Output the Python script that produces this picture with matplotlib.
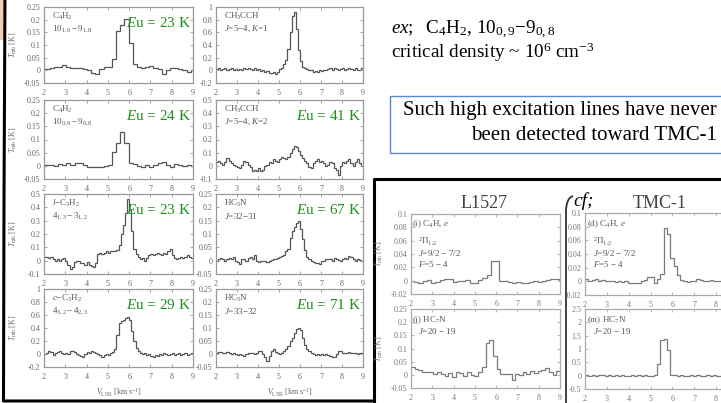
import numpy as np
import matplotlib
matplotlib.use('Agg')
import matplotlib.pyplot as plt
from matplotlib.ticker import MultipleLocator, FuncFormatter
from matplotlib.lines import Line2D
from matplotlib.patches import Rectangle, Polygon, PathPatch
from matplotlib.path import Path

plt.rcParams['font.family'] = ['Liberation Serif', 'DejaVu Serif']
plt.rcParams['mathtext.fontset'] = 'custom'
plt.rcParams['mathtext.rm'] = 'Liberation Serif'
plt.rcParams['mathtext.it'] = 'Liberation Serif:italic'
plt.rcParams['mathtext.bf'] = 'Liberation Serif:bold'

# ---------------- data ----------------
# channel grids: (first channel edge, channel width)
grid_c4h2 = (1.875, 0.195)
grid_fine = (2.0, 0.1)
grid_l1527_c4h = (1.95, 0.2)
grid_l1527_hc7n = (2.0, 0.175)
grid_tmc1 = (2.0, 0.15)

c4h2_1 = [0.005, 0.005, 0.008, 0.012, 0.015, 0.02, 0.012, 0.01, 0.01, 0.008,
          0.005, 0.0, -0.01, -0.013, 0.005, 0.012, 0.015, 0.045, 0.155, 0.18,
          0.203, 0.107, 0.025, 0.015, 0.01, 0.012, 0.018, 0.01, 0.005, -0.015,
          0.0, 0.01, 0.01, 0.005, 0.0, -0.005, 0.0]
c4h2_0 = [0.0, 0.002, 0.005, 0.0, 0.008, 0.005, 0.01, 0.005, 0.01, 0.012,
          0.005, -0.004, -0.006, -0.005, -0.003, 0.0, 0.002, 0.052, 0.088, 0.128,
          0.088, 0.01, 0.008, 0.0, -0.005, 0.002, -0.004, 0.005, 0.01, 0.015,
          0.002, -0.004, 0.008, 0.005, 0.0, 0.003, 0.0]
ch3cch_k1 = [0.02, 0.03, 0.0, 0.02, 0.03, 0.01, 0.02, 0.04, 0.01, 0.02,
             0.0, 0.02, 0.01, 0.03, 0.02, 0.04, 0.02, 0.0, 0.03, 0.01,
             0.02, -0.01, 0.0, -0.02, -0.01, -0.04, -0.05, -0.03, -0.06, -0.02,
             0.02, 0.04, 0.1, 0.16, 0.33, 0.6, 0.86, 0.92, 0.65, 0.32,
             0.15, 0.06, 0.03, 0.02, 0.0, 0.01, -0.02, -0.01, -0.02, 0.0,
             -0.01, 0.01, 0.0, 0.02, 0.03, 0.01, 0.04, 0.02, 0.0, 0.02,
             0.03, 0.01, 0.02, 0.04, 0.02, 0.0, 0.03, 0.01, 0.0, 0.04]
ch3cch_k2 = [0.03, 0.04, 0.02, 0.01, 0.03, 0.06, 0.04, 0.02, 0.01, 0.0,
             -0.01, -0.02, 0.01, 0.04, 0.03, 0.01, -0.01, -0.04, -0.03, -0.04,
             -0.02, -0.04, -0.03, 0.0, 0.01, 0.03, 0.02, 0.05, 0.04, 0.03,
             0.05, 0.07, 0.06, 0.05, 0.07, 0.1, 0.13, 0.15, 0.14, 0.11,
             0.08, 0.06, 0.04, 0.02, -0.01, -0.02, 0.02, 0.04, 0.05, 0.03,
             0.04, 0.02, 0.0, 0.01, 0.03, 0.02, -0.02, -0.03, -0.07, 0.0,
             0.03, 0.02, 0.04, 0.05, 0.02, 0.0, 0.03, 0.05, 0.02, 0.0]
l_c3h2 = [0.03, 0.03, 0.02, 0.03, 0.01, 0.0, 0.01, 0.0, 0.01, 0.02,
          0.0, -0.03, -0.06, -0.05, -0.01, 0.0, 0.0, -0.02, -0.02, -0.03,
          -0.01, -0.03, -0.04, -0.05, -0.02, 0.05, 0.06, 0.05, 0.06, 0.07,
          0.06, 0.07, 0.07, 0.07, 0.08, 0.12, 0.2, 0.27, 0.36, 0.46,
          0.38, 0.22, 0.09, 0.05, 0.03, 0.01, 0.02, 0.0, 0.02, 0.04,
          0.05, 0.04, 0.05, 0.06, 0.05, 0.04, 0.06, 0.05, 0.07, 0.09,
          0.04, 0.02, 0.01, 0.02, 0.03, 0.02, 0.03, 0.04, 0.03, 0.02]
c_c3h2 = [0.0, 0.02, 0.05, 0.03, -0.02, 0.01, 0.03, 0.04, 0.02, 0.0,
          0.01, 0.0, 0.04, 0.05, 0.03, 0.0, -0.01, -0.03, -0.05, 0.0,
          0.03, 0.02, 0.04, 0.03, 0.02, 0.0, -0.02, -0.05, -0.02, 0.0,
          -0.01, 0.01, 0.03, 0.08, 0.3, 0.47, 0.51, 0.53, 0.56, 0.57,
          0.52, 0.35, 0.2, 0.1, 0.05, 0.02, 0.0, 0.01, -0.01, 0.0,
          -0.03, -0.05, -0.02, -0.03, 0.0, -0.01, 0.02, 0.0, -0.02, 0.0,
          0.01, -0.01, 0.0, 0.02, -0.01, 0.0, 0.01, -0.02, 0.0, 0.01]
hc5n_32 = [0.0, 0.005, 0.01, 0.005, 0.0, 0.005, 0.01, 0.005, 0.012, 0.0,
           -0.005, -0.012, 0.008, 0.005, 0.0, 0.01, 0.015, 0.005, 0.02, 0.0,
           -0.005, 0.0, -0.003, 0.0, -0.005, 0.0, 0.002, 0.005, 0.008, 0.01,
           0.012, 0.018, 0.02, 0.035, 0.045, 0.085, 0.11, 0.125, 0.14, 0.15,
           0.12, 0.08, 0.04, 0.015, 0.005, 0.0, -0.005, -0.01, -0.008, -0.012,
           -0.003, 0.0, 0.005, 0.008, 0.005, 0.0, 0.01, 0.005, 0.003, 0.0,
           0.005, 0.01, 0.005, 0.018, 0.012, 0.005, 0.0, 0.005, 0.002, 0.0]
hc5n_33 = [0.005, 0.008, 0.006, 0.005, 0.004, 0.006, 0.003, 0.0, 0.002, 0.0,
           -0.002, 0.0, -0.004, -0.006, 0.0, 0.004, 0.002, 0.004, 0.0, 0.005,
           0.01, 0.012, 0.0, -0.01, -0.025, -0.008, 0.01, 0.02, 0.008, 0.003,
           0.0, 0.002, 0.01, 0.02, 0.032, 0.05, 0.06, 0.08, 0.095, 0.1,
           0.092, 0.06, 0.035, 0.02, 0.012, 0.003, 0.0, -0.003, 0.0, -0.004,
           0.0, -0.002, 0.0, -0.005, -0.008, -0.013, -0.01, 0.0, 0.012, 0.01,
           0.005, 0.002, 0.004, 0.006, 0.003, 0.002, 0.005, 0.0, 0.004, 0.002]
l1527_c4h = [0.0, -0.002, -0.003, 0.0, 0.001, -0.003, -0.002, 0.001, 0.002, 0.002,
             -0.002, -0.001, 0.0, 0.001, -0.004, -0.003, 0.001, 0.004, 0.009, 0.03,
             0.029, 0.0, -0.001, -0.002, -0.003, -0.002, -0.004, -0.003, -0.002, -0.001,
             -0.002, 0.0, 0.001, 0.002, 0.003, 0.001]
l1527_hc7n = [0.028, 0.022, 0.02, 0.012, 0.01, 0.012, 0.005, 0.01, 0.005, -0.005,
              0.008, -0.008, 0.01, 0.008, -0.004, 0.01, 0.0, -0.005, 0.012, 0.03,
              0.12, 0.132, 0.07, 0.022, 0.003, 0.005, 0.003, -0.018, 0.005, -0.002,
              0.012, 0.003, 0.015, 0.008, 0.015, 0.02, 0.025, 0.01, 0.0, 0.015]
tmc1_c4h = [0.003, 0.0, 0.002, 0.003, 0.001, 0.002, 0.0, 0.001, 0.0, -0.001,
            0.0, -0.001, 0.001, -0.002, -0.003, -0.002, -0.003, 0.0, 0.002, 0.007,
            0.007, -0.002, 0.004, 0.011, 0.078, 0.07, 0.034, 0.022, 0.01, 0.002,
            0.0, -0.001, 0.0, 0.001, 0.003, 0.002, 0.001, 0.0, 0.002, 0.0,
            0.001, 0.0, 0.001, 0.0, 0.002, 0.0, 0.001]
tmc1_hc7n = [0.02, 0.0, 0.01, 0.0, 0.02, 0.01, 0.0, 0.01, 0.0, 0.02,
             0.0, 0.01, 0.0, 0.0, 0.01, 0.0, 0.02, 0.0, 0.01, 0.0,
             0.0, 0.01, 0.42, 1.33, 1.38, 0.95, 0.04, 0.02, 0.0, 0.01,
             0.0, 0.0, 0.02, 0.0, 0.01, 0.0, 0.0, 0.01, 0.0, 0.02,
             0.0, 0.0, 0.01, 0.0, 0.0, 0.01, 0.0]

eu_labels = ["23", "24", "23", "29", None, "41", "67", "71"]

# ---------------- figure ----------------
W, H = 721, 403
fig = plt.figure(figsize=(W / 100, H / 100), dpi=100)
fig.patch.set_facecolor('white')


def px_axes(x0, y0, x1, y1):
    return fig.add_axes([x0 / W, 1 - y1 / H, (x1 - x0) / W, (y1 - y0) / H])


def ftext(x, y, s, **kw):
    kw.setdefault('va', 'center')
    return fig.text(x / W, 1 - y / H, s, **kw)


def fmt(v, pos):
    s = f"{v:.3f}".rstrip('0').rstrip('.')
    if s in ('-0', '-0.'):
        s = '0'
    return s


def xfmt_cut(v, pos):
    return '' if v > 8.5 else f"{v:.0f}"


def draw(ax, grid, vals, ylim, ystep, line_c, frame_c, label_c):
    start, width = grid
    edges = start + width * np.arange(len(vals) + 1)
    ax.stairs(vals, edges, color=line_c, lw=0.9, baseline=None)
    ax.set_xlim(2, 9)
    ax.set_ylim(*ylim)
    ax.xaxis.set_major_locator(MultipleLocator(1))
    ax.yaxis.set_major_locator(MultipleLocator(ystep))
    ax.yaxis.set_major_formatter(FuncFormatter(fmt))
    ax.tick_params(direction='in', top=True, right=True, length=2.5, width=0.6,
                   color=frame_c, labelcolor=label_c, labelsize=5.8)
    ax.tick_params(axis='x', pad=4)
    ax.tick_params(axis='y', pad=2.5)
    for sp in ax.spines.values():
        sp.set_color(frame_c)
        sp.set_linewidth(0.9)


LINE = '#555555'
FRAME = '#999999'
TLAB = '#666666'
GREEN = '#1f8f1f'

left_x = (44, 193)
right_x = (216, 363)
rows = [(7, 83), (100, 179), (194, 274), (289, 367)]

left_specs = [
    (c4h2_1, grid_c4h2, (-0.05, 0.25), 0.05, r"C$_4$H$_2$", r"10$_{1,9}-$9$_{1,8}$"),
    (c4h2_0, grid_c4h2, (-0.05, 0.25), 0.05, r"C$_4$H$_2$", r"10$_{0,9}-$9$_{0,8}$"),
    (l_c3h2, grid_fine, (-0.1, 0.5), 0.1, r"$l$$-$C$_3$H$_2$", r"4$_{1,3}-$3$_{1,2}$"),
    (c_c3h2, grid_fine, (-0.2, 1.0), 0.2, r"$c$$-$C$_3$H$_2$", r"4$_{3,2}-$4$_{2,3}$"),
]
right_specs = [
    (ch3cch_k1, grid_fine, (-0.2, 1.0), 0.2, r"CH$_3$CCH", r"$J$=5$-$4, $K$=1"),
    (ch3cch_k2, grid_fine, (-0.1, 0.5), 0.1, r"CH$_3$CCH", r"$J$=5$-$4, $K$=2"),
    (hc5n_32, grid_fine, (-0.05, 0.25), 0.05, r"HC$_5$N", r"$J$=32$-$31"),
    (hc5n_33, grid_fine, (-0.05, 0.25), 0.05, r"HC$_5$N", r"$J$=33$-$32"),
]

for col, (xr, specs) in enumerate([(left_x, left_specs), (right_x, right_specs)]):
    for r, (vals, grid, ylim, ystep, name, trans) in enumerate(specs):
        y0, y1 = rows[r]
        ax = px_axes(xr[0], y0, xr[1], y1)
        draw(ax, grid, vals, ylim, ystep, LINE, FRAME, TLAB)
        ftext(xr[0] + 8, y0 + 9, name, fontsize=6.5, color='#555555')
        ftext(xr[0] + 8, y0 + 22, trans, fontsize=6.5, color='#555555')
        eu = eu_labels[col * 4 + r]
        if eu is not None:
            ftext(xr[1] - 2, y0 + 16, r"$E$u = " + eu + " K", fontsize=11,
                  color=GREEN, ha='right')
        if col == 0:
            ftext(13, (y0 + y1) / 2, r"$T_{\rm mb}$ [K]", fontsize=5.8,
                  color=TLAB, rotation=90, ha='center')
    ftext((xr[0] + xr[1]) / 2, 393, r"$V_{\rm LSR}$ [km s$^{-1}$]", fontsize=5.8,
          color=TLAB, ha='center')

# ---------------- lower-right comparison panels ----------------
LINE2 = '#7a7a7a'
FRAME2 = '#aaaaaa'
TLAB2 = '#777777'

ax = px_axes(411, 214, 560, 294)
draw(ax, grid_l1527_c4h, l1527_c4h, (-0.02, 0.1), 0.02, LINE2, FRAME2, TLAB2)
ax = px_axes(411, 309, 560, 388)
draw(ax, grid_l1527_hc7n, l1527_hc7n, (-0.05, 0.25), 0.05, LINE2, FRAME2, TLAB2)
ax = px_axes(585, 213, 738, 295)
draw(ax, grid_tmc1, tmc1_c4h, (-0.02, 0.1), 0.02, LINE2, FRAME2, TLAB2)
ax.xaxis.set_major_formatter(FuncFormatter(xfmt_cut))
ax = px_axes(585, 309, 738, 389)
draw(ax, grid_tmc1, tmc1_hc7n, (-0.5, 2.5), 0.5, LINE2, FRAME2, TLAB2)
ax.xaxis.set_major_formatter(FuncFormatter(xfmt_cut))

for yc in [(214 + 294) / 2, (309 + 388) / 2]:
    ftext(379, yc, r"$T_{\rm mb}$ [K]", fontsize=5.8, color=TLAB2, rotation=90, ha='center')

TC = '#555555'
for x0, lab in [(412, "(i) C$_4$H, $e$"), (587, "(d) C$_4$H, $e$")]:
    ftext(x0, 224, lab, fontsize=6.5, color=TC)
    ftext(x0 + 6, 242, r"$^2\Pi_{1/2}$", fontsize=6.5, color=TC)
    ftext(x0 + 6, 253, r"$J$=9/2 $-$ 7/2", fontsize=6.5, color=TC)
    ftext(x0 + 6, 264, r"$F$=5 $-$ 4", fontsize=6.5, color=TC)
for x0, lab in [(412, "(j) HC$_7$N"), (587, "(m) HC$_7$N")]:
    ftext(x0, 320, lab, fontsize=6.5, color=TC)
    ftext(x0 + 6, 331, r"$J$=20 $-$ 19", fontsize=6.5, color=TC)

ftext(484, 204, "L1527", fontsize=13, color='#444444', ha='center')
ftext(660, 204, "TMC-1", fontsize=13, color='#444444', ha='center')
ftext(584, 201, "cf;", fontsize=14, color='black', ha='center', style='italic')

# bracket "("
def P(x, y):
    return (x / W, 1 - y / H)

br = Path([P(573, 196), P(566, 198), P(566, 212), P(566, 404)],
          [Path.MOVETO, Path.CURVE3, Path.CURVE3, Path.LINETO])
fig.add_artist(PathPatch(br, fill=False, edgecolor='#333333', lw=1.3,
                         transform=fig.transFigure))

# black frame of lower-right inset
fig.add_artist(Line2D([374 / W, 374 / W, 730 / W], [0, 1 - 179 / H, 1 - 179 / H],
                      color='black', lw=2.2, transform=fig.transFigure))

# left frame
fig.add_artist(Polygon([P(0, 0), P(5, 0), P(4, 40), P(0, 40)], closed=True,
                       facecolor='#f3cfa8', edgecolor='none', transform=fig.transFigure))
fig.add_artist(Line2D([5 / W, 4 / W, 3.5 / W, 374 / W], [1.02, 1 - 200 / H, 1 - 401 / H, 1 - 401 / H],
                      color='black', lw=2.2, transform=fig.transFigure))

# ---------------- top-right text ----------------
ftext(391, 34, r"$\mathit{ex;}$  C$_4$H$_2$, 10$_{0,9}$$-$9$_{0,8}$", fontsize=13.8, va='baseline')
ftext(391, 58.5, r"critical density ~ 10$^6$ cm$^{-3}$", fontsize=13.8, va='baseline')

fig.add_artist(Rectangle((390 / W, 1 - 153 / H), 360 / W, 57 / H, fill=False,
                         edgecolor='#5b87d8', lw=1.0, transform=fig.transFigure))
ftext(717, 115, "Such high excitation lines have never", fontsize=15, ha='right', va='baseline')
ftext(717, 140, "been detected toward TMC-1", fontsize=15, ha='right', va='baseline')

fig.savefig('out.png', dpi=100, facecolor='white')
